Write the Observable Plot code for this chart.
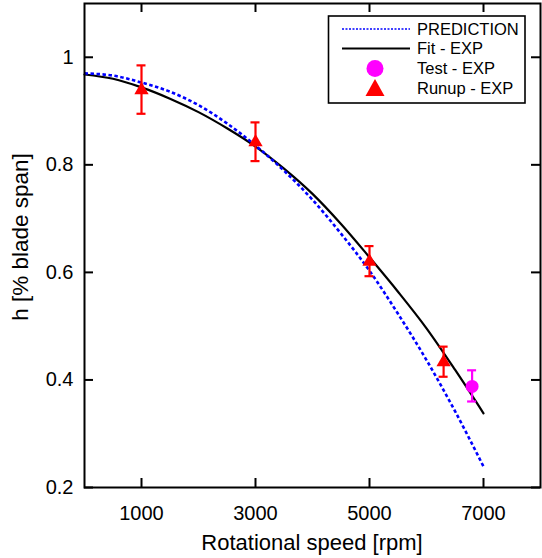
<!DOCTYPE html>
<html>
<head>
<meta charset="utf-8">
<script src="https://cdn.jsdelivr.net/npm/d3@7"></script>
<script src="https://cdn.jsdelivr.net/npm/@observablehq/plot@0.6"></script>
<style>
  html, body { margin: 0; padding: 0; background: #fff; }
  #chart { width: 542px; height: 558px; }
</style>
</head>
<body>
<div id="chart"></div>
<script>
// ---- data ----
const predRpm = [0, 500, 1000, 1500, 2000, 2500, 3000, 3500, 4000, 4500, 5000, 5500, 6000, 6500, 7000];
const predH   = [0.970, 0.966, 0.953, 0.936, 0.911, 0.877, 0.836, 0.789, 0.735, 0.672, 0.603, 0.523, 0.437, 0.342, 0.239];

const fitRpm = [0, 500, 1000, 1500, 2000, 2500, 3000, 3500, 4000, 4500, 5000, 5500, 6000, 6500, 7000];
const fitH   = [0.968, 0.960, 0.944, 0.923, 0.898, 0.868, 0.834, 0.793, 0.746, 0.690, 0.628, 0.564, 0.496, 0.419, 0.338];

const runupRpm = [1000, 3000, 5000, 6300];
const runupH   = [0.939, 0.842, 0.620, 0.433];
const runupErr = [0.045, 0.036, 0.028, 0.028];

const testRpm = [6800];
const testH   = [0.388];
const testErr = [0.029];

const xTicks = [1000, 3000, 5000, 7000];
const xTickLabels = ["1000", "3000", "5000", "7000"];
const yTicks = [0.2, 0.4, 0.6, 0.8, 1.0];
const yTickLabels = ["0.2", "0.4", "0.6", "0.8", "1"];

const legendLabels = ["PREDICTION", "Fit - EXP", "Test - EXP", "Runup - EXP"];
const xLabel = "Rotational speed [rpm]";
const yLabel = "h [% blade span]";

// ---- tables ----
const pred = predRpm.map((x, i) => ({x, y: predH[i]}));
const fit = fitRpm.map((x, i) => ({x, y: fitH[i]}));
const runup = runupRpm.map((x, i) => ({x, y: runupH[i], lo: runupH[i] - runupErr[i], hi: runupH[i] + runupErr[i]}));
const test = testRpm.map((x, i) => ({x, y: testH[i], lo: testH[i] - testErr[i], hi: testH[i] + testErr[i]}));

const W = 542, H = 558;
const mL = 84, mR = 2, mT = 3, mB = 71;
const plotW = W - mL - mR, plotH = H - mT - mB;
const tickLen = 9;
const FONT = "'Liberation Sans', Arial, sans-serif";
const capW = 4.5;

const chart = Plot.plot({
  width: W,
  height: H,
  marginLeft: mL,
  marginRight: mR,
  marginTop: mT,
  marginBottom: mB,
  style: {fontFamily: FONT, background: "white", color: "black", overflow: "visible"},
  x: {type: "linear", domain: [0, 8000], label: null},
  y: {type: "linear", domain: [0.2, 1.1], label: null},
  marks: [
    Plot.line(fit, {x: "x", y: "y", stroke: "black", strokeWidth: 2.2, curve: "monotone-x"}),
    Plot.line(pred, {x: "x", y: "y", stroke: "#0000ff", strokeWidth: 2.6, strokeDasharray: "3.5,2.5", strokeLinecap: "butt", curve: "monotone-x"}),
    Plot.ruleX(runup, {x: "x", y1: "lo", y2: "hi", stroke: "#ff0000", strokeWidth: 2.2}),
    Plot.ruleX(test, {x: "x", y1: "lo", y2: "hi", stroke: "#ff00ff", strokeWidth: 2.2}),
    Plot.dot(runup, {x: "x", y: "y", symbol: "triangle", r: 5.3, fill: "#ff0000", stroke: "none"}),
    Plot.dot(test, {x: "x", y: "y", symbol: "circle", r: 6.5, fill: "#ff00ff", stroke: "none"}),
    Plot.frame({stroke: "black", strokeWidth: 2}),
    Plot.tickX(xTicks, {x: d => d, stroke: "black", strokeWidth: 2, insetTop: plotH - tickLen}),
    Plot.tickX(xTicks, {x: d => d, stroke: "black", strokeWidth: 2, insetBottom: plotH - tickLen}),
    Plot.tickY(yTicks, {y: d => d, stroke: "black", strokeWidth: 2, insetRight: plotW - tickLen}),
    Plot.tickY(yTicks, {y: d => d, stroke: "black", strokeWidth: 2, insetLeft: plotW - tickLen}),
    Plot.axisX(xTicks, {anchor: "bottom", tickSize: 0, tickPadding: 18, fontSize: 20, label: null,
      tickFormat: d => xTickLabels[xTicks.indexOf(d)]}),
    Plot.axisY(yTicks, {anchor: "left", tickSize: 0, tickPadding: 11, fontSize: 20, label: null,
      tickFormat: d => yTickLabels[yTicks.indexOf(d)]})
  ]
});

document.getElementById("chart").appendChild(chart);

const svg = d3.select(chart);
const xs = chart.scale("x"), ys = chart.scale("y");

// error bar caps, positioned through the plot's scales
const capsG = svg.append("g").attr("aria-label", "caps");
function caps(rows, color) {
  rows.forEach(r => {
    [r.lo, r.hi].forEach(v => {
      capsG.append("line")
        .attr("x1", xs.apply(r.x) - capW).attr("x2", xs.apply(r.x) + capW)
        .attr("y1", ys.apply(v)).attr("y2", ys.apply(v))
        .attr("stroke", color).attr("stroke-width", 2.2);
    });
  });
}
caps(runup, "#ff0000");
caps(test, "#ff00ff");
svg.selectAll("g[aria-label='dot']").raise();

// axis titles
svg.append("text")
  .attr("x", mL + plotW / 2).attr("y", 550)
  .attr("text-anchor", "middle")
  .attr("font-family", FONT).attr("font-size", 22)
  .attr("fill", "black")
  .text(xLabel);

svg.append("text")
  .attr("transform", `translate(28, 237) rotate(-90)`)
  .attr("text-anchor", "middle")
  .attr("font-family", FONT).attr("font-size", 22.5)
  .attr("fill", "black")
  .text(yLabel);

// legend
const lg = svg.append("g").attr("aria-label", "legend");
lg.append("rect").attr("x", 328.5).attr("y", 16).attr("width", 196.5).attr("height", 87)
  .attr("fill", "white").attr("stroke", "black").attr("stroke-width", 1.6);
const rowY = [29, 48.5, 68.5, 88];
lg.append("line").attr("x1", 342).attr("x2", 410).attr("y1", rowY[0]).attr("y2", rowY[0])
  .attr("stroke", "#0000ff").attr("stroke-width", 1.6).attr("stroke-dasharray", "2,1.5");
lg.append("line").attr("x1", 342).attr("x2", 410).attr("y1", rowY[1]).attr("y2", rowY[1])
  .attr("stroke", "black").attr("stroke-width", 2);
lg.append("circle").attr("cx", 375).attr("cy", rowY[2]).attr("r", 8.5).attr("fill", "#ff00ff");
lg.append("path").attr("d", `M375,${rowY[3] - 9}L384.5,${rowY[3] + 8}L365.5,${rowY[3] + 8}Z`).attr("fill", "#ff0000");
legendLabels.forEach((t, i) => {
  lg.append("text").attr("x", 417).attr("y", rowY[i]).attr("dy", "0.36em")
    .attr("text-anchor", "start")
    .attr("font-family", FONT).attr("font-size", 16.5).attr("fill", "black").text(t);
});
</script>
</body>
</html>
